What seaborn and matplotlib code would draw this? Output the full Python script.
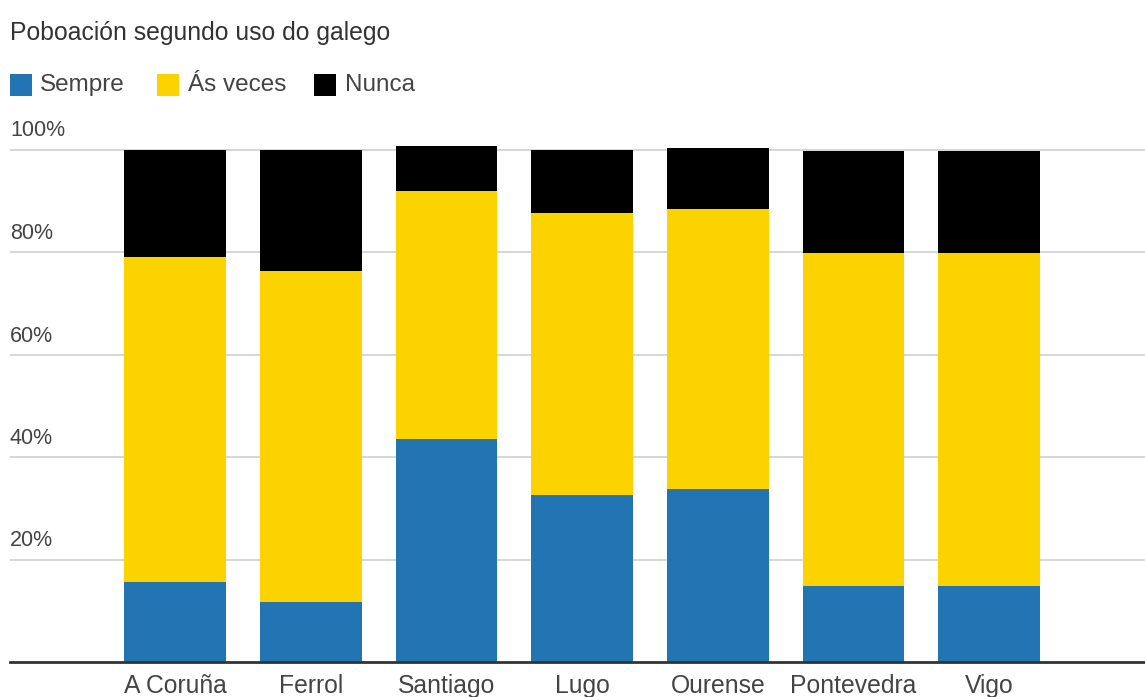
import matplotlib
matplotlib.use("Agg")
import matplotlib.pyplot as plt
import matplotlib.transforms as mtransforms
from matplotlib.patches import Rectangle
import seaborn as sns
import pandas as pd

cities = ["A Coruña", "Ferrol", "Santiago", "Lugo", "Ourense", "Pontevedra", "Vigo"]
sempre = [15.7, 11.8, 43.6, 32.6, 33.7, 14.9, 14.9]
as_veces = [63.3, 64.4, 48.4, 55.1, 54.7, 64.9, 64.9]
nunca = [21.0, 23.8, 8.7, 12.3, 11.8, 20.0, 20.0]
series_names = ["Sempre", "Ás veces", "Nunca"]
y_ticks = [20, 40, 60, 80, 100]
title = "Poboación segundo uso do galego"

colors = {"Sempre": "#2274b3", "Ás veces": "#fbd300", "Nunca": "#000000"}

sns.set_theme(style="white")
plt.rcParams["font.family"] = ["Liberation Sans", "DejaVu Sans"]

df = pd.DataFrame({"ciudad": cities, "Sempre": sempre, "Ás veces": as_veces, "Nunca": nunca})
df["c1"] = df["Sempre"]
df["c2"] = df["Sempre"] + df["Ás veces"]
df["c3"] = df["c2"] + df["Nunca"]

W, H = 1145, 697
fig = plt.figure(figsize=(W / 100, H / 100), dpi=100)
ax_left = 10 / W
ax_bottom = 1 - 662 / H
ymax = 102
ax_h = ymax * 5.125 / H
ax = fig.add_axes([ax_left, ax_bottom, 1 - ax_left, ax_h])

# gridlines
for v in y_ticks:
    ax.axhline(v, color="#d0d0d0", lw=1.2, zorder=0)

for col, name in [("c3", "Nunca"), ("c2", "Ás veces"), ("c1", "Sempre")]:
    sns.barplot(data=df, x="ciudad", y=col, order=cities, color=colors[name],
                width=0.75, ax=ax, linewidth=0, saturation=1, zorder=2)

ax.set_xlim(-1.216, 7.148)
ax.set_ylim(0, ymax)
ax.set_xlabel("")
ax.set_ylabel("")
ax.set_yticks([])
for s in ["top", "right", "left"]:
    ax.spines[s].set_visible(False)
ax.spines["bottom"].set_color("#333333")
ax.spines["bottom"].set_linewidth(2)
ax.tick_params(axis="x", length=0, pad=22.3, labelsize=17.8, labelcolor="#444444")
for lbl in ax.get_xticklabels():
    lbl.set_va("baseline")

# y labels above gridlines
trans = mtransforms.blended_transform_factory(ax.transAxes, ax.transData)
for v in y_ticks:
    ax.text(0, v + 13 / 5.125, f"{v}%", transform=trans, ha="left", va="baseline",
            fontsize=15.5, color="#444444")

# title
fig.text(10 / W, 1 - 40 / H, title, ha="left", va="baseline", fontsize=17.8, color="#333333")

# legend
leg_x = [10, 157, 314]
txt_x = [40, 188, 345]
for name, sx, tx in zip(series_names, leg_x, txt_x):
    fig.patches.append(Rectangle((sx / W, 1 - 96 / H), 22 / W, 22 / H,
                                 transform=fig.transFigure, facecolor=colors[name],
                                 edgecolor="none"))
    fig.text(tx / W, 1 - 85 / H, name, ha="left", va="center", fontsize=17.5,
             color="#444444")

fig.savefig("out.png", dpi=100)
